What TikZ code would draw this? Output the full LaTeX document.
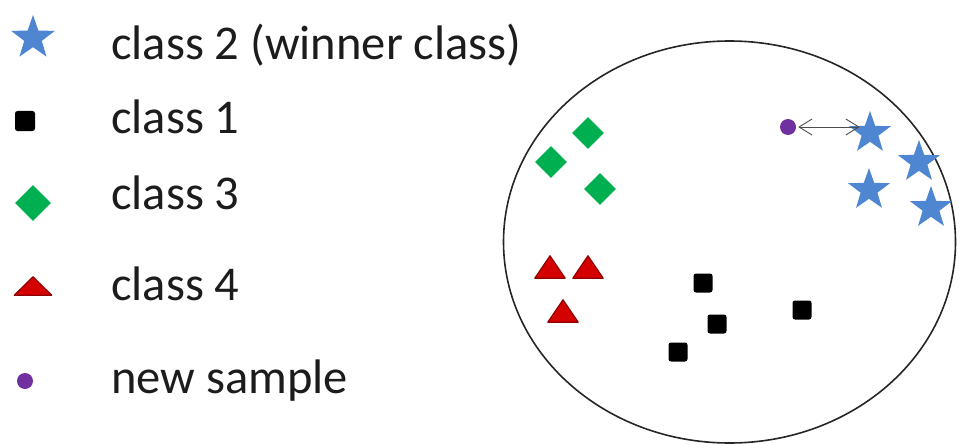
\documentclass[tikz,border=0pt]{standalone}
\usepackage{fontspec}
\setmainfont{Carlito}
\usetikzlibrary{shapes.geometric,arrows.meta}
\definecolor{starblue}{HTML}{4F86D2}
\definecolor{dgreen}{HTML}{00B050}
\definecolor{tred}{HTML}{D40000}
\definecolor{tredd}{HTML}{900000}
\definecolor{purp}{HTML}{7030A0}
\definecolor{txt}{HTML}{1C1C1C}
\begin{document}
\begin{tikzpicture}[x=1pt,y=-1pt,
  starmark/.style={star,star points=5,star point ratio=2.5,fill=starblue,inner sep=0pt,minimum size=#1},
  starmark/.default=44pt,
  sqmark/.style={rectangle,rounded corners=2.5pt,fill=black,inner sep=0pt,minimum size=#1},
  sqmark/.default=19pt,
  dimark/.style={diamond,fill=dgreen,inner sep=0pt,minimum size=#1},
  dimark/.default=32pt,
  trimark/.style 2 args={rectangle,inner sep=0pt,minimum width=#1,minimum height=#2,
    append after command={\pgfextra{\filldraw[fill=tred,draw=tredd,line width=1.2pt,line join=round]
      (\tikzlastnode.south west) -- (\tikzlastnode.south east) -- (\tikzlastnode.north) -- cycle;}}},
  dotmark/.style={circle,fill=purp,inner sep=0pt,minimum size=16pt},
  lbl/.style={font=\fontsize{48.5}{54}\selectfont,text=txt,inner sep=0pt,anchor=base west},
  arr/.style={{Straight Barb[length=13pt,width=16pt]}-{Straight Barb[length=13pt,width=16pt]},draw=black!70,line width=0.9pt}
]
\useasboundingbox (0,0) rectangle (962,444);

% legend
\node[starmark=46pt] (ls2) at (33,38) {};
\node[sqmark=20pt] (ls1) at (25,121) {};
\node[dimark=36pt] (ls3) at (33,203) {};
\node[trimark={37pt}{18pt}] (ls4) at (33,286) {};
\node[dotmark] (lsn) at (25,381) {};

\node[lbl] (l2) at (111,60) {class 2 (winner class)};
\node[lbl] (l1) at (111,133) {class 1};
\node[lbl] (l3) at (111,209) {class 3};
\node[lbl] (l4) at (111,300) {class 4};
\node[lbl] (ln) at (111,393) {new sample};

% region
\node[draw=black!85,ellipse,line width=1.6pt,minimum width=452pt,minimum height=402pt,inner sep=0pt] (region) at (729.5,242) {};

% class 3
\node[dimark] (g1) at (588,133) {};
\node[dimark] (g2) at (551,162) {};
\node[dimark] (g3) at (600,189) {};

% class 4
\node[trimark={30pt}{22pt}] (t1) at (550,267) {};
\node[trimark={30pt}{22pt}] (t2) at (588,267) {};
\node[trimark={30pt}{22pt}] (t3) at (563,311) {};

% class 1
\node[sqmark] (b1) at (703,283) {};
\node[sqmark] (b2) at (717,324) {};
\node[sqmark] (b3) at (678,352) {};
\node[sqmark] (b4) at (802,310) {};

% class 2
\node[starmark] (s1) at (870,133) {};
\node[starmark] (s2) at (919,162) {};
\node[starmark] (s3) at (869,190) {};
\node[starmark] (s4) at (931,208) {};

% new sample
\node[dotmark] (ns) at (788,127) {};
\coordinate (tip) at (ns -| s1.west);
\draw[arr] ([xshift=2pt]ns.east) -- ([xshift=2pt]tip);
\end{tikzpicture}
\end{document}
